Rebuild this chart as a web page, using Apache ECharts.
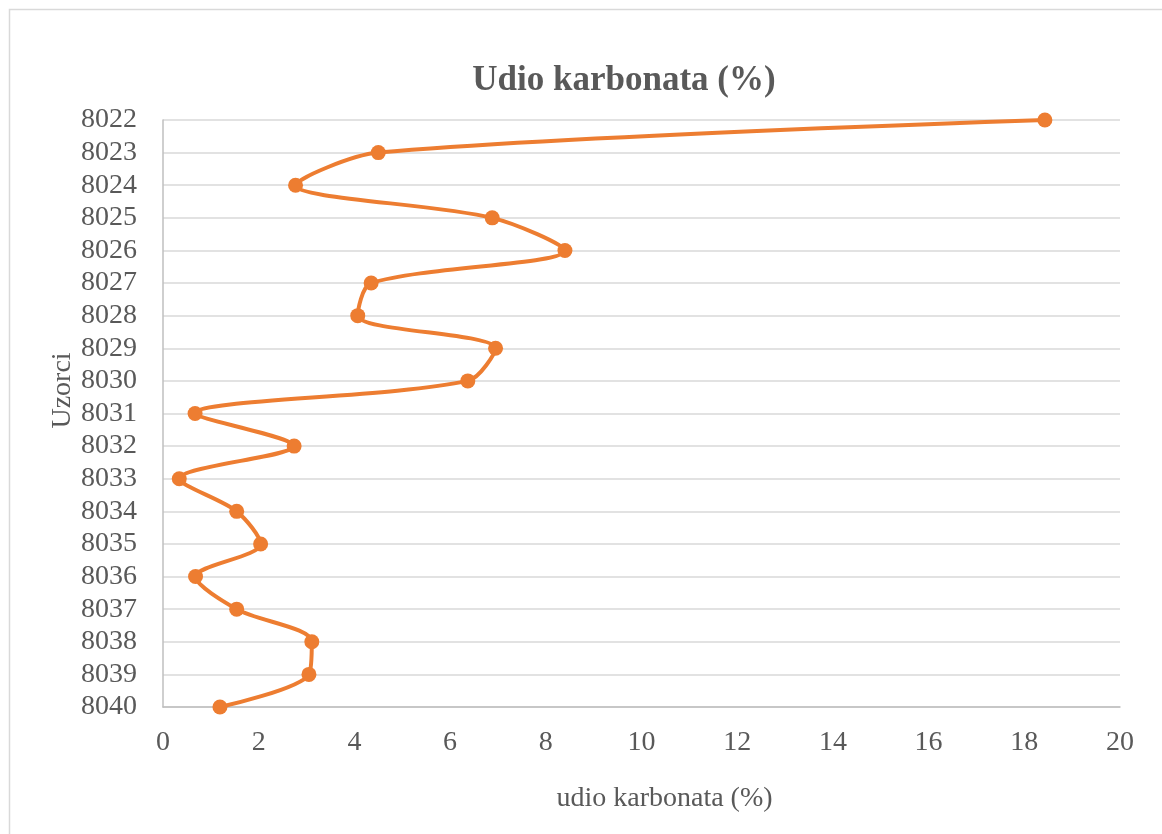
<!DOCTYPE html>
<html>
<head>
<meta charset="utf-8">
<title>Udio karbonata (%)</title>
<script src="https://cdn.jsdelivr.net/npm/echarts@6/dist/echarts.min.js"></script>
<style>
  html, body { margin: 0; padding: 0; background: #fff; }
  #chart { width: 1162px; height: 834px; }
</style>
</head>
<body>
<div id="chart"></div>
<script>
  // uzorci (top to bottom)
  var samples = ['8022', '8023', '8024', '8025', '8026', '8027', '8028', '8029', '8030', '8031',
    '8032', '8033', '8034', '8035', '8036', '8037', '8038', '8039', '8040']
  // udio karbonata (%)
  var carbonate = [18.43, 4.50, 2.77, 6.88, 8.40, 4.35, 4.07, 6.95, 6.37, 0.67,
    2.74, 0.34, 1.54, 2.04, 0.68, 1.54, 3.11, 3.05, 1.19]

  var serif = '"Liberation Serif", "Times New Roman", "DejaVu Serif", serif'
  var textColor = '#595959'

  var chart = echarts.init(document.getElementById('chart'))

  var option = {
    backgroundColor: '#fff',
    animation: false,
    title: {
      text: 'Udio karbonata (%)',
      left: 619,
      textAlign: 'center',
      top: 58,
      textStyle: {
        fontFamily: serif,
        fontSize: 35,
        fontWeight: 'bold',
        color: textColor
      }
    },
    graphic: [
      {
        type: 'rect',
        left: 7,
        top: 7,
        shape: { width: 1300, height: 900 },
        style: { fill: 'none', stroke: '#d9d9d9', lineWidth: 1.5 },
        silent: true,
        z: -1
      }
    ],
    grid: {
      left: 163,
      right: 42,
      top: 120,
      bottom: 127,
      containLabel: false
    },
    xAxis: {
      type: 'value',
      min: 0,
      max: 20,
      interval: 2,
      name: 'udio karbonata (%)',
      nameLocation: 'middle',
      nameGap: 78,
      nameMoveOverlap: false,
      nameTextStyle: {
        fontFamily: serif,
        fontSize: 28,
        color: textColor,
        padding: [0, 0, 0, 46]
      },
      axisLine: { show: true, lineStyle: { color: '#bfbfbf', width: 1.5 } },
      axisTick: { show: false },
      splitLine: { show: false },
      axisLabel: {
        fontFamily: serif,
        fontSize: 28,
        color: textColor,
        margin: 22
      }
    },
    yAxis: {
      type: 'category',
      data: samples,
      inverse: true,
      boundaryGap: false,
      name: 'Uzorci',
      nameLocation: 'middle',
      nameGap: 86,
      nameRotate: 90,
      nameMoveOverlap: false,
      nameTextStyle: {
        fontFamily: serif,
        fontSize: 28,
        color: textColor,
        padding: [0, 0, 0, 46]
      },
      axisLine: { show: true, lineStyle: { color: '#bfbfbf', width: 1.5 } },
      axisTick: { show: false },
      splitLine: { show: true, lineStyle: { color: '#d9d9d9', width: 1.5 } },
      axisLabel: {
        fontFamily: serif,
        fontSize: 28,
        color: textColor,
        margin: 26,
        interval: 0
      }
    },
    series: [
      {
        name: 'udio karbonata (%)',
        type: 'line',
        data: carbonate,
        smooth: 0.3,
        symbol: 'circle',
        symbolSize: 15,
        lineStyle: { color: '#ED7D31', width: 4 },
        itemStyle: { color: '#ED7D31' }
      }
    ]
  }

  chart.setOption(option)
</script>
</body>
</html>
